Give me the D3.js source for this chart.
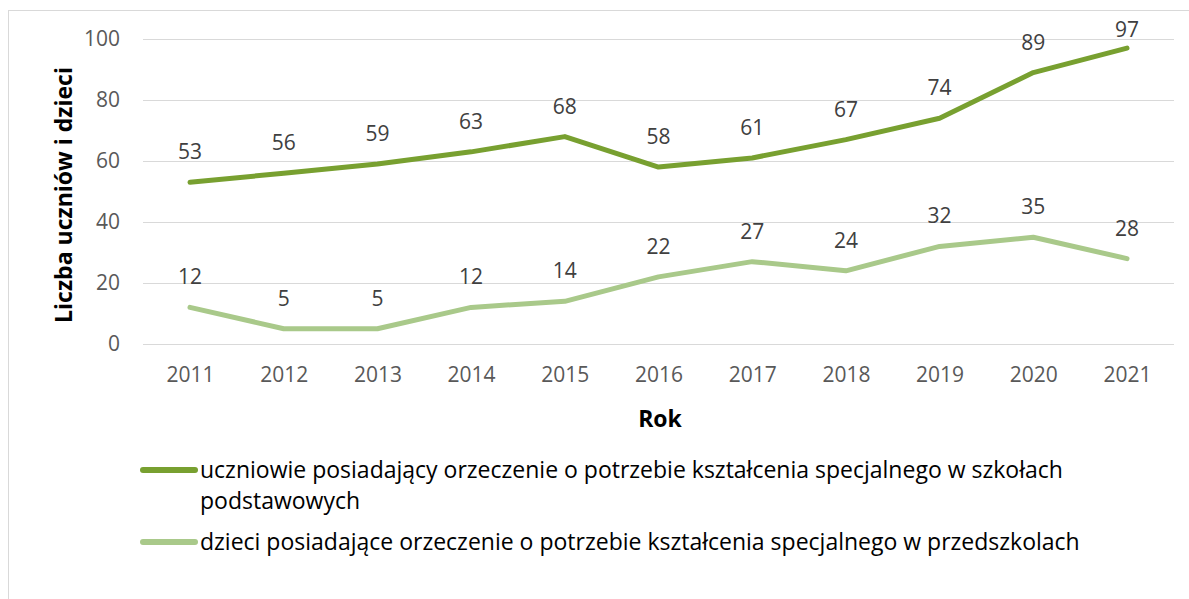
<!DOCTYPE html>
<meta charset="utf-8">
<style>
  body { margin: 0; background: #fff; }
  text { font-family: "Open Sans", "Noto Sans", sans-serif; }
</style>
<body></body>
<script src="https://d3js.org/d3.v7.min.js"></script>
<script>

var years = ["2011", "2012", "2013", "2014", "2015", "2016", "2017", "2018", "2019", "2020", "2021"];
var uczniowie = [53, 56, 59, 63, 68, 58, 61, 67, 74, 89, 97];
var dzieci = [12, 5, 5, 12, 14, 22, 27, 24, 32, 35, 28];
var yTicks = [0, 20, 40, 60, 80, 100];
var seriesNames = [
  ["uczniowie posiadający orzeczenie o potrzebie kształcenia specjalnego w szkołach", "podstawowych"],
  ["dzieci posiadające orzeczenie o potrzebie kształcenia specjalnego w przedszkolach"]
];
var colors = ["#78a030", "#a9c98a"];

var width = 1189,
    height = 599;

var svg = d3.select("body").append("svg")
    .attr("width", width)
    .attr("height", height);

// chart frame
svg.append("rect")
    .attr("x", 8.5).attr("y", 10.5)
    .attr("width", width).attr("height", height)
    .attr("fill", "none")
    .attr("stroke", "#d9d9d9");

var x = d3.scalePoint().domain(years).range([190, 1127]);
var y = d3.scaleLinear().domain([0, 100]).range([344, 39]);

// grid
svg.append("g")
    .attr("transform", "translate(143,0)")
    .call(d3.axisLeft(y).tickValues(yTicks).tickSize(-1031).tickPadding(23))
    .call(function(g) {
      g.select(".domain").remove();
      g.selectAll(".tick line").attr("stroke", "#d9d9d9").attr("stroke-width", 1);
      g.selectAll(".tick text").attr("fill", "#595959").style("font-size", "21px");
    });

svg.append("g")
    .attr("transform", "translate(0,344)")
    .call(d3.axisBottom(x).tickSize(0).tickPadding(23))
    .call(function(g) {
      g.select(".domain").remove();
      g.selectAll(".tick text").attr("fill", "#595959").style("font-size", "21px");
    });

// axis titles
svg.append("text")
    .attr("transform", "translate(72,195) rotate(-90)")
    .attr("text-anchor", "middle")
    .style("font-size", "23px").style("font-weight", "bold")
    .text("Liczba uczniów i dzieci");

svg.append("text")
    .attr("x", 660).attr("y", 427)
    .attr("text-anchor", "middle")
    .style("font-size", "23px").style("font-weight", "bold")
    .text("Rok");

var line = d3.line()
    .x(function(d, i) { return x(years[i]); })
    .y(function(d) { return y(d); });

[uczniowie, dzieci].forEach(function(s, k) {
  svg.append("path")
      .datum(s)
      .attr("d", line)
      .attr("fill", "none")
      .attr("stroke", colors[k])
      .attr("stroke-width", 5)
      .attr("stroke-linejoin", "round")
      .attr("stroke-linecap", "round");

  // labels sit above the point, but are kept inside the plot area
  svg.append("g").selectAll("text")
      .data(s)
    .enter().append("text")
      .attr("x", function(d, i) { return x(years[i]); })
      .attr("y", function(d) { return Math.max(y(d) - 23, y(100) - 2); })
      .attr("text-anchor", "middle")
      .attr("fill", "#404040")
      .style("font-size", "21px")
      .text(function(d) { return d; });
});

// legend
var legendY = [470, 542];
seriesNames.forEach(function(lines, k) {
  var g = svg.append("g").attr("transform", "translate(0," + legendY[k] + ")");
  g.append("line")
      .attr("x1", 143).attr("x2", 195)
      .attr("stroke", colors[k])
      .attr("stroke-width", 6)
      .attr("stroke-linecap", "round");
  g.selectAll("text")
      .data(lines)
    .enter().append("text")
      .attr("x", 200)
      .attr("y", function(d, i) { return 8 + i * 31; })
      .attr("fill", "#000")
      .style("font-size", "23px")
      .text(function(d) { return d; });
});

</script>
